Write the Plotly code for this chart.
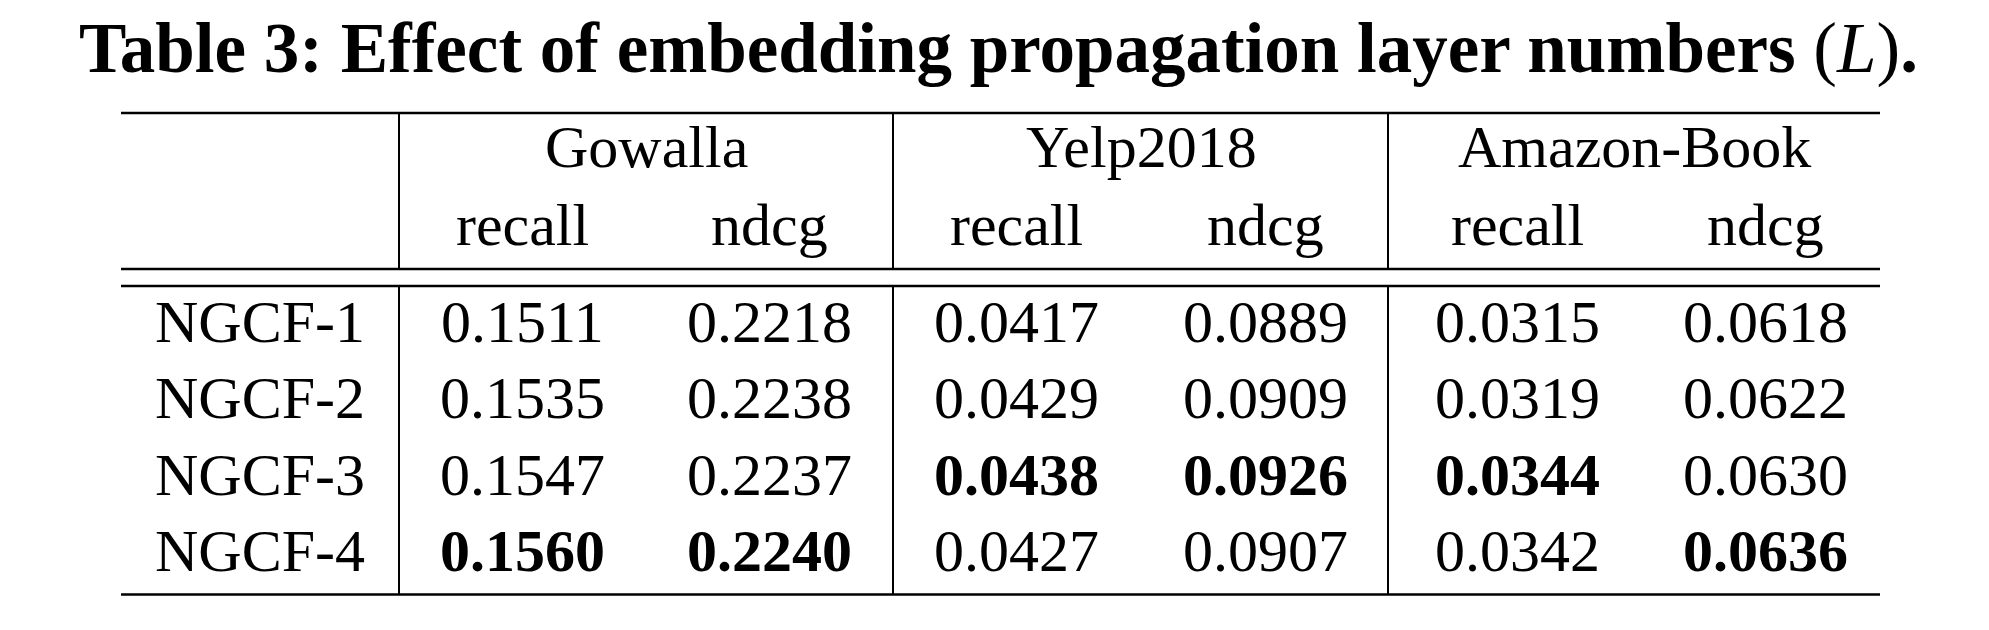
import plotly.graph_objects as go

# ---------------- data ----------------
title_text = "<b>Table 3: Effect of embedding propagation layer numbers </b>(<i>L</i>)<b>.</b>"
models = ["NGCF-1", "NGCF-2", "NGCF-3", "NGCF-4"]
datasets = ["Gowalla", "Yelp2018", "Amazon-Book"]
metrics = ["recall", "ndcg"]

gowalla_recall = [0.1511, 0.1535, 0.1547, 0.1560]
gowalla_ndcg = [0.2218, 0.2238, 0.2237, 0.2240]
yelp_recall = [0.0417, 0.0429, 0.0438, 0.0427]
yelp_ndcg = [0.0889, 0.0909, 0.0926, 0.0907]
amazon_recall = [0.0315, 0.0319, 0.0344, 0.0342]
amazon_ndcg = [0.0618, 0.0622, 0.0630, 0.0636]

columns = [gowalla_recall, gowalla_ndcg, yelp_recall, yelp_ndcg, amazon_recall, amazon_ndcg]

# ---------------- layout constants (pixels) ----------------
W, H = 1989, 630
M = 8  # default body margin of the html page
FONT = "Liberation Serif"
BODY = 60
TITLE = 71

x_left, x_right = 121, 1880
x_model = 260
x_vlines = [399, 893, 1388]
x_dataset = [646, 1141, 1634]
x_cols = [522, 769, 1016, 1265, 1517, 1765]
x_title = 998

y_title = 48
y_top = 113
y_mid1, y_mid2 = 269, 286
y_bottom = 594.5
y_dataset = 147
y_metric = 225
y_rows = [322, 398, 475, 551]

fig = go.Figure()

ann = []
def add_text(x, y, text, size=BODY, bold=False):
    ann.append(dict(
        x=x, y=y, xref="x", yref="y", text=(f"<b>{text}</b>" if bold else text),
        showarrow=False, xanchor="center", yanchor="middle", borderpad=0,
        font=dict(family=FONT, size=size, color="black"),
    ))

add_text(x_title, y_title, title_text, size=TITLE)

for xc, d in zip(x_dataset, datasets):
    add_text(xc, y_dataset, d)
for i, xc in enumerate(x_cols):
    add_text(xc, y_metric, metrics[i % 2])

for r, (m, yr) in enumerate(zip(models, y_rows)):
    add_text(x_model, yr, m)
    for xc, col in zip(x_cols, columns):
        v = col[r]
        add_text(xc, yr, f"{v:.4f}", bold=(v == max(col)))

shapes = []
def hline(y, w=2.6):
    shapes.append(dict(type="line", xref="x", yref="y", x0=x_left, x1=x_right, y0=y, y1=y,
                       line=dict(color="black", width=w)))
def vline(x, y0, y1, w=2):
    shapes.append(dict(type="line", xref="x", yref="y", x0=x, x1=x, y0=y0, y1=y1,
                       line=dict(color="black", width=w)))

hline(y_top)
hline(y_mid1)
hline(y_mid2)
hline(y_bottom)
for xv in x_vlines:
    vline(xv, y_top, y_mid1)
    vline(xv, y_mid2, y_bottom)

fig.update_layout(
    width=W - 2 * M, height=H - 2 * M,
    margin=dict(l=0, r=0, t=0, b=0),
    paper_bgcolor="white", plot_bgcolor="white",
    xaxis=dict(range=[M, W - M], visible=False, fixedrange=True),
    yaxis=dict(range=[H - M, M], visible=False, fixedrange=True),
    annotations=ann, shapes=shapes, showlegend=False,
)

fig.write_html("out.html")
